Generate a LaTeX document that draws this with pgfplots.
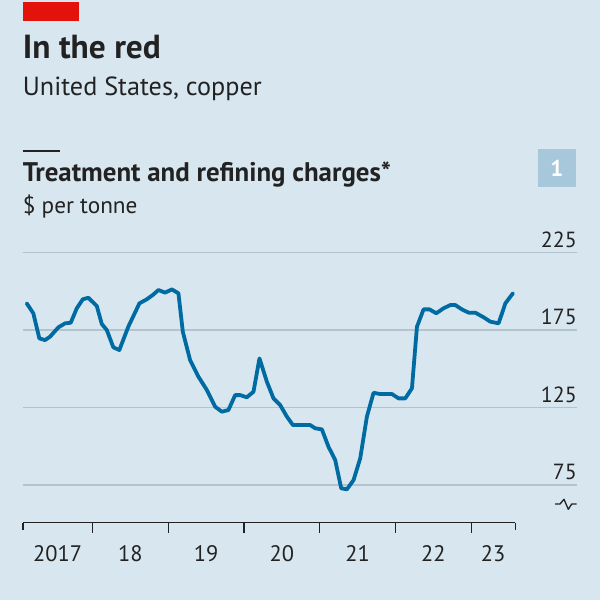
\documentclass[border=0pt]{standalone}
\usepackage{fontspec}
\setmainfont{PT Sans}
\usepackage{pgfplots}
\pgfplotsset{compat=1.18}
\definecolor{bg}{HTML}{D8E6EF}
\definecolor{econred}{HTML}{E3120B}
\definecolor{econblue}{HTML}{006BA2}
\definecolor{gridc}{HTML}{B4C3CC}
\definecolor{txt}{HTML}{222222}
\definecolor{boxc}{HTML}{A7C8DB}
\begin{document}
\begin{tikzpicture}
\fill[bg] (0bp,0bp) rectangle (600bp,-600bp);
\fill[econred] (22.7bp,-1.5bp) rectangle (78.7bp,-20.7bp);
\node[anchor=base west, inner sep=0pt, text=txt] at (22.7bp,-58.3bp) {\fontsize{33.5}{35}\selectfont\bfseries In the red};
\node[anchor=base west, inner sep=0pt, text=txt] at (22.7bp,-95bp) {\fontsize{26.3}{28}\selectfont United States, copper};
\draw[txt, line width=1.4bp] (22.7bp,-151bp) -- (60bp,-151bp);
\node[anchor=base west, inner sep=0pt, text=txt] at (22.7bp,-181.7bp) {\fontsize{27}{29}\selectfont\bfseries Treatment and refining charges*};
\node[anchor=base west, inner sep=0pt, text=txt] at (22.7bp,-213.3bp) {\fontsize{23.3}{25}\selectfont \$ per tonne};
\fill[boxc] (537.7bp,-149.3bp) rectangle (576bp,-187.3bp);
\node[text=white, inner sep=0pt] at (556.85bp,-168.3bp) {\fontsize{23}{25}\selectfont\bfseries 1};
\begin{axis}[
  at={(22.7bp,-522.7bp)}, anchor=south west,
  scale only axis, width=554.3bp, height=270.2bp,
  xmin=2017.079, xmax=2024.397, ymin=50.7, ymax=225,
  axis line style={draw=none},
  clip=false,
  ytick={75,125,175,225},
  ymajorgrids,
  grid style={gridc, line width=1.2bp},
  yticklabel pos=right,
  ytick style={draw=none},
  yticklabel style={anchor=base east, inner sep=0pt, yshift=5.2bp, text=txt, font=\fontsize{22}{24}\selectfont},
  xtick={2017.54,2018.5,2019.5,2020.5,2021.5,2022.5,2023.29},
  xticklabels={2017,18,19,20,21,22,23},
  xtick pos=bottom,
  xtick style={draw=none},
  major tick length=0pt,
  xticklabel style={anchor=base, inner sep=0pt, yshift=-38.3bp, text=txt, font=\fontsize{22.5}{24}\selectfont},
  /pgf/number format/assume math mode=true,
]
\draw[txt, line width=1.3bp] (axis cs:2017.083,50.7) -- (axis cs:2023.583,50.7);
\pgfplotsinvokeforeach{2018,2019,2020,2021,2022,2023}{
  \draw[txt, line width=1.3bp] (axis cs:#1,50.7) -- ++(0bp,-10.7bp);
}
\draw[txt, line width=1.3bp] (axis cs:2017.083,50.7) -- ++(0bp,-7bp);
\draw[txt, line width=1.3bp] (axis cs:2023.583,50.7) -- ++(0bp,-7bp);
\addplot[econblue, line width=3.8bp, line join=round, line cap=round] coordinates {
(2017.132,192.2) (2017.219,185.8) (2017.299,169.6) (2017.374,168.5) (2017.440,170.7)
(2017.550,176.7) (2017.638,179.3) (2017.713,179.7) (2017.793,189.0) (2017.872,194.8)
(2017.946,195.8) (2018.057,190.5) (2018.123,178.9) (2018.189,175.0) (2018.276,163.8)
(2018.355,162.1) (2018.474,177.2) (2018.620,192.2) (2018.717,194.8) (2018.797,197.6)
(2018.871,200.8) (2018.959,199.1) (2019.048,201.2) (2019.135,198.7) (2019.193,173.9)
(2019.289,155.6) (2019.399,144.9) (2019.510,136.3) (2019.620,125.5) (2019.708,122.3)
(2019.795,123.4) (2019.884,133.0) (2019.950,133.0) (2020.038,131.6) (2020.126,135.2)
(2020.205,156.7) (2020.303,141.6) (2020.390,130.9) (2020.478,126.6) (2020.567,119.1)
(2020.646,113.7) (2020.874,113.7) (2020.941,111.6) (2021.029,110.9) (2021.116,99.7)
(2021.205,91.1) (2021.284,72.9) (2021.359,72.2) (2021.447,78.2) (2021.535,92.2)
(2021.623,119.1) (2021.711,134.5) (2021.799,133.7) (2021.954,133.7) (2022.041,130.9)
(2022.129,130.9) (2022.218,137.4) (2022.284,177.1) (2022.371,188.3) (2022.450,188.3)
(2022.539,185.8) (2022.635,189.0) (2022.724,191.1) (2022.790,191.1) (2022.878,188.3)
(2022.966,186.2) (2023.054,186.2) (2023.164,183.2) (2023.252,180.4) (2023.362,179.3)
(2023.451,192.2) (2023.552,198.7)
};
\end{axis}
\draw[txt, line width=1.3bp, line join=round] (555bp,-504bp) -- (560bp,-504bp) -- (564bp,-499.3bp) -- (568.3bp,-509.3bp) -- (571.7bp,-504bp) -- (576.7bp,-504bp);
\end{tikzpicture}
\end{document}
